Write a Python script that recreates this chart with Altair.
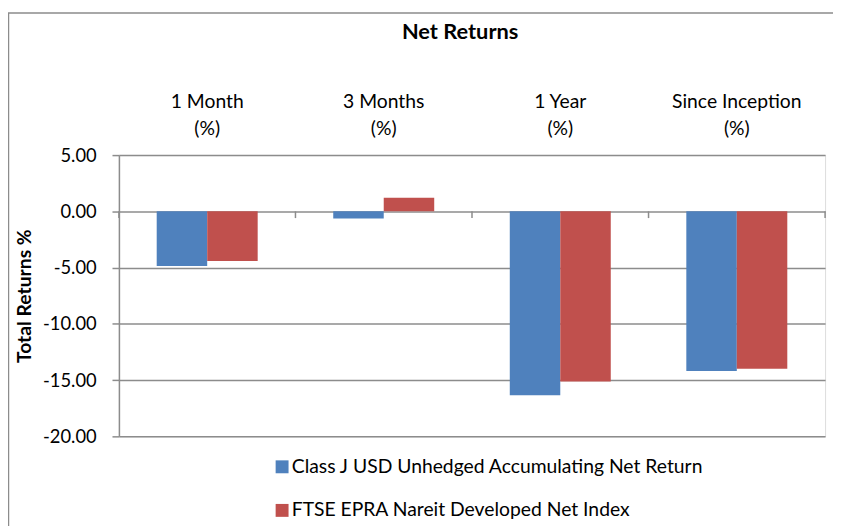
import altair as alt
import pandas as pd

categories = ["1 Month", "3 Months", "1 Year", "Since Inception"]
series = ["Class J USD Unhedged Accumulating Net Return", "FTSE EPRA Nareit Developed Net Index"]
fund_values = [-4.85, -0.64, -16.34, -14.20]
index_values = [-4.41, 1.21, -15.13, -13.99]
boundaries = [0, 1, 2, 3, 4]

rows = []
for c, f, i in zip(categories, fund_values, index_values):
    rows.append({"period": c, "series": series[0], "value": f})
    rows.append({"period": c, "series": series[1], "value": i})
df = pd.DataFrame(rows)

FONT = "Lato"
GRID = "#8c8c8c"

yscale = alt.Scale(domain=[-20, 5], nice=False, zero=False)

bars = alt.Chart(df).mark_bar().encode(
    x=alt.X("period:N", sort=categories,
            scale=alt.Scale(paddingInner=0.428, paddingOuter=0.214),
            axis=alt.Axis(orient="top", title=None, domain=False, ticks=False,
                          labelAngle=0, labelFontSize=19.5, labelFont=FONT,
                          labelColor="#000", labelPadding=44, labelLineHeight=27,
                          labelExpr="[datum.label, '(%)']", grid=False)),
    xOffset=alt.XOffset("series:N", sort=series),
    y=alt.Y("value:Q", scale=yscale,
            axis=alt.Axis(title="Total Returns %", values=[5, 0, -5, -10, -15, -20],
                          labelExpr="replace(format(datum.value, '.2f'), '\u2212', '-')",
                          grid=True, gridColor=GRID, gridWidth=1.5,
                          domainColor=GRID, domainWidth=1.5, tickColor=GRID, tickWidth=1.5,
                          tickSize=7, labelPadding=16, labelFontSize=18.5, labelFont=FONT,
                          labelColor="#000", titleFont=FONT, titleFontSize=19.5,
                          titleFontWeight="bold", titleColor="#000", titlePadding=8)),
    color=alt.Color("series:N", sort=series,
                    scale=alt.Scale(domain=series, range=["#4F81BD", "#C0504D"]),
                    legend=alt.Legend(title=None, orient="none", legendX=155, legendY=305,
                                      direction="vertical", symbolType="square",
                                      symbolSize=170, symbolStrokeWidth=0, labelOffset=0,
                                      labelFont=FONT, labelFontSize=19.5, labelColor="#000",
                                      rowPadding=23, labelLimit=600, padding=0)),
)

tick_df = pd.DataFrame({"b": boundaries})
ticks = alt.Chart(tick_df).mark_rule(color=GRID, strokeWidth=1.5).encode(
    x=alt.X("b:Q", scale=alt.Scale(domain=[0, 4], nice=False, zero=False), axis=None),
    y=alt.datum(0, scale=yscale),
    y2=alt.datum(-0.6),
)

frame = alt.Chart(alt.Data(values=[{}])).mark_rect(
    fill="transparent", stroke="#8c8c8c", strokeWidth=1.5
).encode(
    x=alt.value(-111.5), x2=alt.value(800), y=alt.value(-143.5), y2=alt.value(400)
)

chart = alt.layer(bars, ticks, frame).resolve_scale(x="independent").properties(
    width=713, height=284,
    autosize=alt.AutoSizeParams(type="none"),
    padding={"left": 112, "top": 146, "right": 8, "bottom": 88},
    title=alt.TitleParams("Net Returns", font=FONT, fontSize=22, fontWeight="bold",
                          color="#000", offset=-32, dx=-12),
).configure_view(stroke=None).configure(background="white")

chart.save("out.html", embed_options={"renderer": "svg", "actions": False})
